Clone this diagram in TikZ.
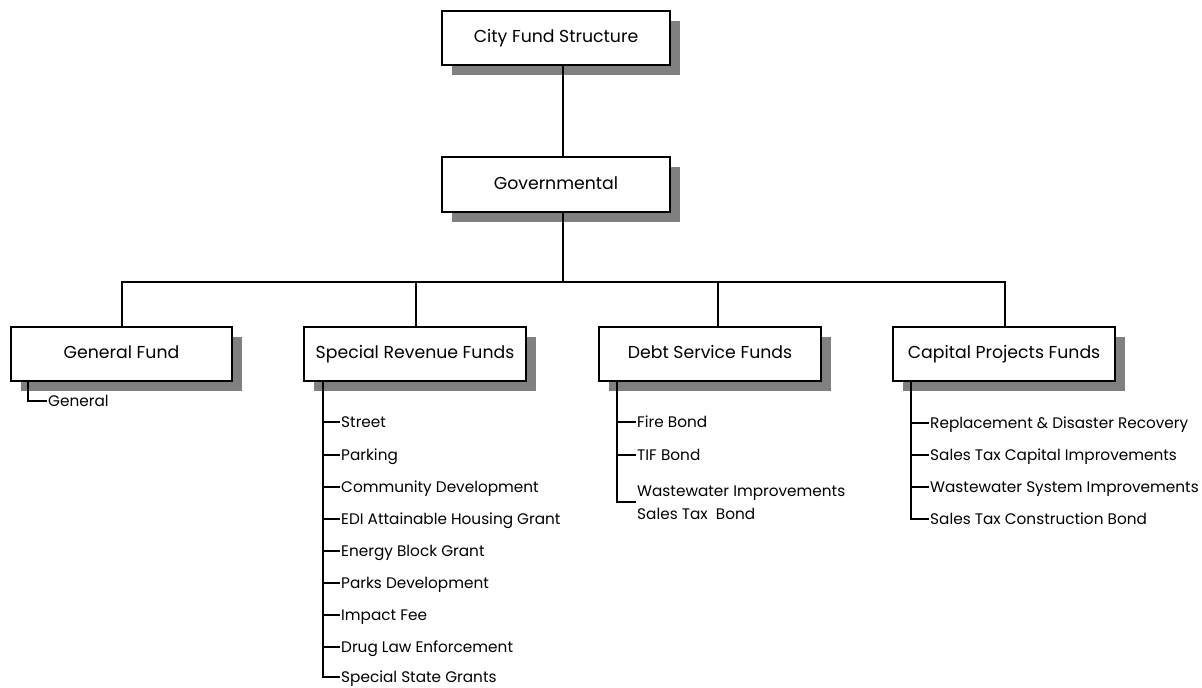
\documentclass[tikz,border=0pt]{standalone}
\usepackage{fontspec}
\setmainfont{Poppins}
\begin{document}
\begin{tikzpicture}[x=1pt,y=-1pt,
  fundbox/.style={draw=black, line width=1.4pt, fill=white, minimum width=222pt, minimum height=54pt, inner sep=0pt, text height=12.5pt, text depth=3.5pt, font=\fontsize{17.3}{20}\selectfont},
  shadowbox/.style={fill=black!50},
  conn/.style={line width=2pt},
  item/.style={anchor=base west, yshift=-5.2pt, inner sep=0pt, font=\fontsize{15.3}{23}\selectfont, align=left}
]
\useasboundingbox (0,0) rectangle (1202,688);
% shadows
\fill[shadowbox] (452,21) rectangle (680,75);
\fill[shadowbox] (452,167) rectangle (680,222);
\fill[shadowbox] (21,337) rectangle (242,391);
\fill[shadowbox] (314,337) rectangle (536,391);
\fill[shadowbox] (609,337) rectangle (831,391);
\fill[shadowbox] (903,337) rectangle (1125,391);
% connectors top
\coordinate (bus) at (563,282);
\coordinate (busL) at (122,282);
\coordinate (busR) at (1005,282);
\draw[conn] (563,65) -- (563,157);
\draw[conn] (563,212) -- (bus);
\draw[conn] (122,327) -- (busL) -- (busR) -- (1005,327);
\draw[conn] (415.5,282) -- (415.5,327);
\draw[conn] (718,282) -- (718,327);
% boxes
\node[fundbox, minimum width=228pt] (city) at (556,38) {City Fund Structure};
\node[fundbox, minimum width=228pt, minimum height=55pt] (gov) at (556,184.5) {Governmental};
\node[fundbox, minimum width=221pt] (gen) at (121.5,354) {General Fund};
\node[fundbox] (spec) at (415,354) {Special Revenue Funds};
\node[fundbox] (debt) at (710,354) {Debt Service Funds};
\node[fundbox] (cap) at (1004,354) {Capital Projects Funds};
% General
\node[item] (g1) at (48,401) {General};
\draw[conn] (28,381) |- (47,401);
% Special revenue
\node[item] (s1) at (341,422) {Street};
\node[item] (s2) at (341,455) {Parking};
\node[item] (s3) at (341,487) {Community Development};
\node[item] (s4) at (341,519) {EDI Attainable Housing Grant};
\node[item] (s5) at (341,551) {Energy Block Grant};
\node[item] (s6) at (341,583) {Parks Development};
\node[item] (s7) at (341,615) {Impact Fee};
\node[item] (s8) at (341,647) {Drug Law Enforcement};
\node[item] (s9) at (341,677) {Special State Grants};
\draw[conn] (323,381) |- (340,677);
\foreach \y in {422,455,487,519,551,583,615,647}{\draw[conn] (323,\y) -- (340,\y);}
% Debt service
\node[item] (d1) at (637,422) {Fire Bond};
\node[item] (d2) at (637,455) {TIF Bond};
\node[item, anchor=west, yshift=0pt] (d3) at (637,498) {Wastewater Improvements\\Sales Tax~ Bond};
\draw[conn] (617,381) |- (636,502);
\foreach \y in {422,455}{\draw[conn] (617,\y) -- (636,\y);}
% Capital projects
\node[item] (c1) at (930,423) {Replacement \& Disaster Recovery};
\node[item] (c2) at (930,455) {Sales Tax Capital Improvements};
\node[item] (c3) at (930,487) {Wastewater System Improvements};
\node[item] (c4) at (930,519) {Sales Tax Construction Bond};
\draw[conn] (911,381) |- (929,519);
\foreach \y in {423,455,487}{\draw[conn] (911,\y) -- (929,\y);}
\end{tikzpicture}
\end{document}
